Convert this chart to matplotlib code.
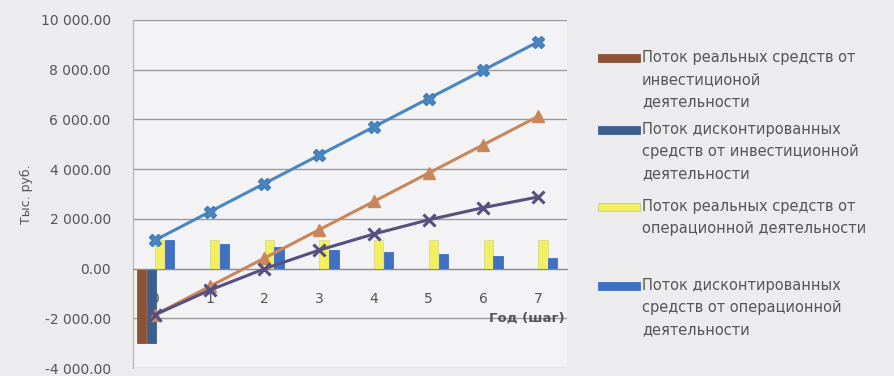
import matplotlib
matplotlib.use("Agg")
import matplotlib.pyplot as plt
from matplotlib.patches import Rectangle
from matplotlib.ticker import FuncFormatter
import numpy as np

plt.rcParams['font.family'] = ['DejaVu Sans']

years = [0, 1, 2, 3, 4, 5, 6, 7]
year_labels = ['0', '1', '2', '3', '4', '5', '6', '7']

# bar series (тыс. руб.)
invest_real = [-3000, 0, 0, 0, 0, 0, 0, 0]
invest_disc = [-3000, 0, 0, 0, 0, 0, 0, 0]
oper_real = [1140, 1140, 1140, 1140, 1140, 1140, 1140, 1140]
oper_disc = [1140, 990, 860, 750, 650, 570, 490, 430]

# cumulative line series
cum_oper = [1140, 2280, 3420, 4560, 5700, 6840, 7980, 9120]
cum_net_real = [-1860, -720, 420, 1560, 2700, 3840, 4980, 6120]
cum_net_disc = [-1860, -870, -10, 740, 1390, 1960, 2450, 2880]

legend_labels = [
    "Поток реальных средств от\nинвестиционой\nдеятельности",
    "Поток дисконтированных\nсредств от инвестиционной\nдеятельности",
    "Поток реальных средств от\nоперационной деятельности",
    "Поток дисконтированных\nсредств от операционной\nдеятельности",
]
bar_colors = ['#8c5236', '#3d5f8e', '#f2f060', '#3f70c2']

fig = plt.figure(figsize=(8.94, 3.76), dpi=100, facecolor='#ececee')
ax = fig.add_axes([133/894, 1-368/376, (567-133)/894, (368-20)/376])
ax.set_facecolor('#f3f3f5')

x = np.array(years, dtype=float)
offsets = [-0.24, -0.06, 0.09, 0.27]
w = 0.17
series = [invest_real, invest_disc, oper_real, oper_disc]
for s, off, c in zip(series, offsets, bar_colors):
    ec = '#d8d890' if c == '#f2f060' else c
    ax.bar(x + off, s, width=w, color=c, edgecolor=ec, linewidth=0.6, zorder=2)

ax.plot(x, cum_oper, color='#4a86c0', lw=2.2, marker='X', ms=9, mec='#3f7bb8', zorder=3)
ax.plot(x, cum_net_real, color='#c8865a', lw=2.2, marker='^', ms=8, zorder=3)
ax.plot(x, cum_net_disc, color='#565080', lw=2.2, marker='x', ms=8, mew=2.2, zorder=3)

ax.set_ylim(-4000, 10000)
ax.set_yticks(np.arange(-4000, 10001, 2000))
ax.yaxis.set_major_formatter(FuncFormatter(lambda v, p: f"{v:,.2f}".replace(",", " ")))
ax.set_xlim(-0.4, 7.53)
ax.grid(axis='y', color='#9a9a9a', lw=1.0, zorder=0)
ax.set_axisbelow(True)
for sp in ['top', 'right']:
    ax.spines[sp].set_visible(False)
ax.spines['left'].set_color('#b0b0b0')
ax.spines['bottom'].set_position(('data', 0))
ax.spines['bottom'].set_color('#8a8a8a')
ax.set_xticks(x)
ax.set_xticklabels(year_labels)
ax.tick_params(axis='x', length=0, pad=17, labelsize=10, labelcolor='#555555')
ax.tick_params(axis='y', length=0, pad=16, labelsize=10, labelcolor='#555555')
ax.set_ylabel("Тыс. руб.", fontsize=9, color='#555555')
ax.yaxis.set_label_coords(-0.23, 0.5)
ax.text(0.995, 1 - (318 - 20) / (368 - 20), "Год (шаг)", transform=ax.transAxes,
        ha='right', va='center', fontsize=9.5, fontweight='bold', color='#555555')

# legend (drawn manually to match layout)
entry_y = [58, 130, 207, 286]
for yy, lab, c in zip(entry_y, legend_labels, bar_colors):
    fig.patches.append(Rectangle((598/894, 1 - (yy + 4)/376), 42/894, 8/376,
                                 transform=fig.transFigure, facecolor=c,
                                 edgecolor='#c8c890' if c == '#f2f060' else c, lw=0.6))
    fig.text(642/894, 1 - (yy - 8)/376, lab, fontsize=10.5, color='#555555',
             va='top', ha='left', linespacing=1.6)

fig.savefig("out.png", dpi=100, facecolor=fig.get_facecolor())
